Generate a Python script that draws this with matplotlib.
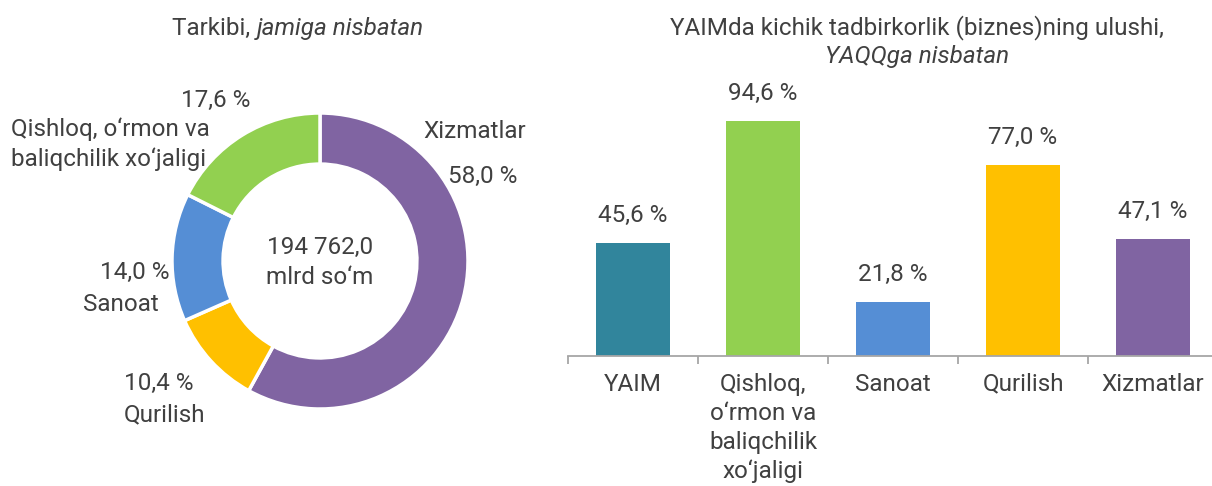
import numpy as np
import matplotlib.pyplot as plt

# donut: share of sectors
pie_labels = ["Xizmatlar", "Qurilish", "Sanoat", "Qishloq, o‘rmon va\nbaliqchilik xo‘jaligi"]
pie_values = [58.0, 10.4, 14.0, 17.6]
pie_colors = ["#8064A2", "#FFC000", "#558ED5", "#92D050"]
total_text = "194 762,0\nmlrd so‘m"

# bars: small business share
bar_labels = ["YAIM", "Qishloq,\no‘rmon va\nbaliqchilik\nxo‘jaligi", "Sanoat", "Qurilish", "Xizmatlar"]
bar_values = [45.6, 94.6, 21.8, 77.0, 47.1]
bar_colors = ["#31859C", "#92D050", "#558ED5", "#FFC000", "#8064A2"]

TXT = "#404040"
FS = 17.5
plt.rcParams['font.family'] = ['Roboto', 'DejaVu Sans']
plt.rcParams['text.color'] = TXT

W, H = 1212, 486
fig = plt.figure(figsize=(W / 100, H / 100), dpi=100)


def px(x, y):
    return x / W, 1 - y / H


def fmt(v):
    return f"{v:.1f}".replace(".", ",") + " %"


def two_style(xc, y, plain, italic):
    # plain part then italic part, centred together on xc
    t1 = fig.text(0, 0, plain, fontsize=FS, va="center")
    t2 = fig.text(0, 0, italic, fontsize=FS, va="center", style="italic")
    rend = fig.canvas.get_renderer()
    w1 = t1.get_window_extent(rend).width
    w2 = t2.get_window_extent(rend).width
    x0 = xc - (w1 + w2) / 2
    t1.set_position(px(x0, y))
    t2.set_position(px(x0 + w1, y))


# ---- donut ----
cx, cy, r = 320, 261, 148
ax1 = fig.add_axes([(cx - r) / W, (H - cy - r) / H, 2 * r / W, 2 * r / H])
ax1.pie(pie_values, colors=pie_colors, startangle=90, counterclock=False,
        radius=1, wedgeprops=dict(width=0.345, edgecolor="white", linewidth=2.5))
ax1.set_xlim(-1, 1)
ax1.set_ylim(-1, 1)
ax1.set_aspect("equal")
ax1.axis("off")
ax1.text(0, -0.01, total_text, ha="center", va="center", fontsize=FS, linespacing=1.4)

two_style(298, 28, "Tarkibi, ", "jamiga nisbatan")

fig.text(*px(423, 131), pie_labels[0], ha="left", va="center", fontsize=FS)
fig.text(*px(517, 176), fmt(pie_values[0]), ha="right", va="center", fontsize=FS)
fig.text(*px(216, 100), fmt(pie_values[3]), ha="center", va="center", fontsize=FS)
fig.text(*px(11, 144), pie_labels[3], ha="left", va="center", fontsize=FS, linespacing=1.35)
fig.text(*px(169, 272), fmt(pie_values[2]), ha="right", va="center", fontsize=FS)
fig.text(*px(159, 304), pie_labels[2], ha="right", va="center", fontsize=FS)
fig.text(*px(124, 383), fmt(pie_values[1]), ha="left", va="center", fontsize=FS)
fig.text(*px(124, 415), pie_labels[1], ha="left", va="center", fontsize=FS)

# ---- bars ----
base_y, top_y = 356, 108
left_x, right_x = 568, 1218
ax2 = fig.add_axes([left_x / W, (H - base_y) / H, (right_x - left_x) / W, (base_y - top_y) / H])
x = np.arange(len(bar_values))
bars = ax2.bar(x, bar_values, width=0.57, color=bar_colors)
for b, v in zip(bars, bar_values):
    ax2.annotate(fmt(v), (b.get_x() + b.get_width() / 2, v), xytext=(0, 20),
                 textcoords="offset points", ha="center", va="center", fontsize=FS)
ax2.set_xlim(-0.5, len(bar_values) - 0.5)
ax2.set_ylim(0, 100)
ax2.set_xticks(x)
ax2.set_xticklabels(bar_labels, fontsize=FS, color=TXT, linespacing=1.33, va="top")
ax2.set_xticks(np.arange(-0.5, len(bar_values)), minor=True)
ax2.tick_params(axis="x", which="major", length=0, pad=12)
ax2.tick_params(axis="x", which="minor", length=6, width=1.3, color="#A6A6A6", direction="out")
ax2.set_yticks([])
for s in ["top", "right", "left"]:
    ax2.spines[s].set_visible(False)
ax2.spines["bottom"].set_color("#A6A6A6")
ax2.spines["bottom"].set_linewidth(1.3)

fig.text(*px(917, 28), "YAIMda kichik tadbirkorlik (biznes)ning ulushi,", ha="center", va="center", fontsize=FS)
fig.text(*px(917, 57), "YAQQga nisbatan", ha="center", va="center", fontsize=FS, style="italic")

fig.savefig("out.png", dpi=100)
